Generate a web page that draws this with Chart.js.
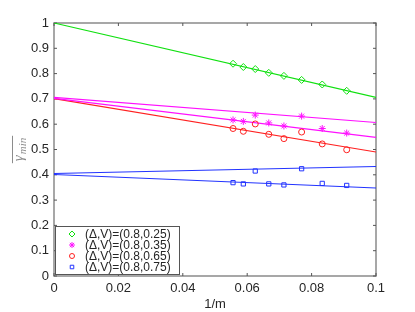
<!DOCTYPE html>
<html>
<head>
<meta charset="utf-8">
<script src="https://cdn.jsdelivr.net/npm/chart.js@4.4.1/dist/chart.umd.min.js"></script>
<style>
    html, body { margin: 0; padding: 0; background: #fff; }
    #wrap { width: 415px; height: 312px; }
</style>
</head>
<body>
<div id="wrap"><canvas id="chart"></canvas></div>
<script>
// 1/m for the sampled system sizes
const invM = [0.0556, 0.0588, 0.0625, 0.0667, 0.0714, 0.0769, 0.0833, 0.0909];

const gamma025 = [0.839, 0.826, 0.818, 0.803, 0.791, 0.775, 0.757, 0.732];
const gamma035 = [0.617, 0.611, 0.636, 0.605, 0.593, 0.632, 0.583, 0.565];
const gamma065 = [0.583, 0.572, 0.601, 0.560, 0.543, 0.569, 0.522, 0.499];
const gamma075 = [0.369, 0.364, 0.415, 0.364, 0.360, 0.424, 0.366, 0.358];

// extrapolation lines, value at 1/m = 0 and 1/m = 0.1
const fitX = [0, 0.1];
const fit025 = [1.0, 0.706];
const fit035Upper = [0.706, 0.607];
const fit035Lower = [0.702, 0.548];
const fit065 = [0.701, 0.490];
const fit075Upper = [0.405, 0.433];
const fit075Lower = [0.401, 0.348];

const seriesLabels = [
    "(\u0394,V)=(0.8,0.25)",
    "(\u0394,V)=(0.8,0.35)",
    "(\u0394,V)=(0.8,0.65)",
    "(\u0394,V)=(0.8,0.75)"
];

const colors = {
    green: "#10e010",
    magenta: "#ff10ff",
    red: "#ff2020",
    blue: "#2233ff",
    axis: "#8a8a8a",
    text: "#262626"
};

function toPoints(xs, ys) {
    return ys.map((y, i) => ({ x: xs[i], y: y }));
}

function markerSet(label, ys, color, style, radius) {
    return {
        label: label,
        data: toPoints(invM, ys),
        showLine: false,
        pointStyle: style,
        pointRadius: radius,
        pointBorderColor: color,
        pointBackgroundColor: "rgba(0,0,0,0)",
        pointBorderWidth: 1,
        isMarker: true
    };
}

function lineSet(ys, color) {
    return {
        label: "",
        data: toPoints(fitX, ys),
        showLine: true,
        borderColor: color,
        borderWidth: 1.1,
        pointRadius: 0,
        isMarker: false
    };
}

const frame = {
    id: "frame",
    beforeDatasetsDraw(chart) {
        const { ctx, chartArea: a, scales } = chart;
        ctx.save();
        ctx.strokeStyle = colors.axis;
        ctx.lineWidth = 1.5;
        ctx.strokeRect(a.left, a.top, a.right - a.left, a.bottom - a.top);
        ctx.lineWidth = 1;
        ctx.strokeStyle = "#555";
        const len = 3;
        scales.x.ticks.forEach((t) => {
            const px = scales.x.getPixelForValue(t.value);
            ctx.beginPath();
            ctx.moveTo(px, a.bottom);
            ctx.lineTo(px, a.bottom - len);
            ctx.moveTo(px, a.top);
            ctx.lineTo(px, a.top + len);
            ctx.stroke();
        });
        scales.y.ticks.forEach((t) => {
            const py = scales.y.getPixelForValue(t.value);
            ctx.beginPath();
            ctx.moveTo(a.left, py);
            ctx.lineTo(a.left + len, py);
            ctx.moveTo(a.right, py);
            ctx.lineTo(a.right - len, py);
            ctx.stroke();
        });
        ctx.restore();
    },
    afterDraw(chart) {
        const { ctx, chartArea: a } = chart;
        ctx.save();

        // y title: overlined gamma_min, rotated
        const cx = 21;
        const cy = (a.top + a.bottom) / 2;
        ctx.translate(cx, cy);
        ctx.rotate(-Math.PI / 2);
        ctx.fillStyle = "#8c8c8c";
        ctx.strokeStyle = "#8c8c8c";
        ctx.textBaseline = "alphabetic";
        ctx.font = "italic 15px 'Liberation Serif', 'DejaVu Serif', serif";
        const wG = ctx.measureText("\u03b3").width;
        ctx.font = "italic 11px 'Liberation Serif', 'DejaVu Serif', serif";
        const wM = ctx.measureText("min").width;
        const total = wG + wM + 1;
        const x0 = -total / 2;
        ctx.font = "italic 15px 'Liberation Serif', 'DejaVu Serif', serif";
        ctx.fillText("\u03b3", x0, 2);
        ctx.font = "italic 11px 'Liberation Serif', 'DejaVu Serif', serif";
        ctx.fillText("min", x0 + wG + 1, 5);
        ctx.lineWidth = 1;
        ctx.beginPath();
        ctx.moveTo(x0 - 2, -8.5);
        ctx.lineTo(x0 + total + 2, -8.5);
        ctx.stroke();
        ctx.restore();

        // legend box in lower-left corner
        ctx.save();
        const box = { left: a.left + 1, top: 226, width: 124, height: 48 };
        ctx.fillStyle = "#fff";
        ctx.fillRect(box.left, box.top, box.width, box.height);
        ctx.strokeStyle = "#555";
        ctx.lineWidth = 1;
        ctx.strokeRect(box.left + 0.5, box.top + 0.5, box.width, box.height);
        const markers = chart.data.datasets.filter((d) => d.isMarker);
        ctx.font = "12px 'Liberation Sans', Arial, sans-serif";
        ctx.textBaseline = "middle";
        markers.forEach((d, i) => {
            const y = box.top + 8 + i * 11;
            ctx.strokeStyle = d.pointBorderColor;
            ctx.fillStyle = "rgba(0,0,0,0)";
            ctx.lineWidth = 1;
            Chart.helpers.drawPoint(ctx, {
                pointStyle: d.pointStyle,
                radius: d.pointRadius - 0.5,
                rotation: 0,
                borderWidth: 1
            }, box.left + 17, y);
            ctx.fillStyle = colors.text;
            ctx.fillText(d.label, box.left + 30, y + 0.5);
        });
        ctx.restore();
    }
};

const fmt = (v) => String(Number(Number(v).toFixed(2)));

new Chart(document.getElementById("chart"), {
    type: "scatter",
    data: {
        datasets: [
            markerSet(seriesLabels[0], gamma025, colors.green, "rectRot", 3.5),
            markerSet(seriesLabels[1], gamma035, colors.magenta, "star", 3.5),
            markerSet(seriesLabels[2], gamma065, colors.red, "circle", 3),
            markerSet(seriesLabels[3], gamma075, colors.blue, "rect", 3),
            lineSet(fit025, colors.green),
            lineSet(fit035Upper, colors.magenta),
            lineSet(fit035Lower, colors.magenta),
            lineSet(fit065, colors.red),
            lineSet(fit075Upper, colors.blue),
            lineSet(fit075Lower, colors.blue)
        ]
    },
    options: {
        responsive: true,
        maintainAspectRatio: false,
        animation: false,
        layout: {
            padding: { left: 0, top: 23, right: 39, bottom: 0 }
        },
        plugins: {
            legend: { display: false },
            tooltip: { enabled: false }
        },
        scales: {
            x: {
                type: "linear",
                min: 0,
                max: 0.1,
                afterFit: (s) => { s.height = 36; },
                grid: { display: false, drawTicks: false },
                border: { display: false },
                ticks: {
                    stepSize: 0.02,
                    color: colors.text,
                    padding: 5,
                    font: { family: "'Liberation Sans', Arial, sans-serif", size: 13 },
                    callback: fmt
                },
                title: {
                    display: true,
                    text: "1/m",
                    color: colors.text,
                    padding: { top: 0, bottom: 0 },
                    font: { family: "'Liberation Sans', Arial, sans-serif", size: 13 }
                }
            },
            y: {
                type: "linear",
                min: 0,
                max: 1,
                afterFit: (s) => { s.width = 54; },
                grid: { display: false, drawTicks: false },
                border: { display: false },
                ticks: {
                    stepSize: 0.1,
                    color: colors.text,
                    padding: 5,
                    font: { family: "'Liberation Sans', Arial, sans-serif", size: 13 },
                    callback: fmt
                }
            }
        }
    },
    plugins: [frame]
});
</script>
</body>
</html>
